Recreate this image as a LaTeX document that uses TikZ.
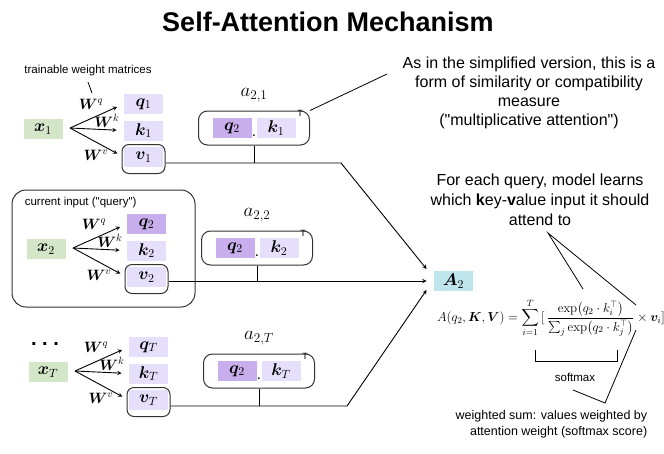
\documentclass[tikz,border=0pt]{standalone}
\usepackage{fix-cm}
\usepackage[no-math]{fontspec}
\setmainfont{Liberation Sans}
\usepackage{amsmath,bm}
\usetikzlibrary{positioning}

\definecolor{qdark}{HTML}{C8AEEC}
\definecolor{qlight}{HTML}{E5DFFB}
\definecolor{xgreen}{HTML}{D3E7C8}
\definecolor{acyan}{HTML}{BEE5EC}

\tikzset{
  vec/.style={minimum width=39pt, minimum height=20pt, inner sep=0pt, font=\fontsize{17}{17}\selectfont},
  rbox/.style={draw=black!80, rounded corners=7pt, line width=1pt},
  wlab/.style={font=\fontsize{15}{15}\selectfont, inner sep=0pt},
}

\begin{document}
\begin{tikzpicture}[x=1pt,y=-1pt,>=stealth,line width=0.9pt]
\useasboundingbox (0,0) rectangle (664,453);
\node[font=\fontsize{27}{27}\selectfont\bfseries] (title) at (328,22) {Self-Attention Mechanism};
\node[font=\fontsize{11.5}{13}\selectfont] (tw) at (88,71) {trainable weight matrices};
\coordinate (twend) at (92,93);
\draw[line width=0.8pt] ([yshift=-2pt]tw.south) -- (twend);
% current input
\node[rbox, rounded corners=14pt, minimum width=183pt, minimum height=117pt] (query) at (103.5,248.5) {};
\node[font=\fontsize{11.5}{13}\selectfont, anchor=west] (qlab) at (21,203) {current input (\textquotedbl query\textquotedbl)};
\node[font=\fontsize{20}{20}\selectfont\bfseries, anchor=base] (dots) at (45,345) {.~.~.};

\foreach \n/\ix/\y/\dx/\qc/\ly in {1/1/129/0/qlight/163, 2/2/249/3/qdark/281, 3/T/372/5/qlight/406}{
  \node[vec, fill=xgreen] (x\n) at (43+\dx,\y) {$\bm x_\ix$};
  \coordinate (o\n) at (70+\dx,\y-1);
  \node[vec, fill=\qc] (q\n) at (143.5+\dx,\y-25) {$\bm q_\ix$};
  \node[vec, fill=qlight] (k\n) at (143.5+\dx,\y+1.5) {$\bm k_\ix$};
  \node[rbox, minimum width=43pt, minimum height=29pt] (vf\n) at (143.5+\dx,\y+30) {};
  \node[vec, fill=qlight] (v\n) at (143.5+\dx,\y+28) {$\bm v_\ix$};
  \draw[->, shorten >=7pt] (o\n) -- (q\n.west);
  \draw[->, shorten >=7pt] (o\n) -- (k\n.west);
  \draw[->, shorten >=7pt] (o\n) -- (v\n.west);
  \node[wlab] (wq\n) at (91+\dx,\y-25) {$\bm W^{q}$};
  \node[wlab] (wk\n) at (107+\dx,\y-8) {$\bm W^{k}$};
  \node[wlab] (wv\n) at (96+\dx,\y+26) {$\bm W^{v}$};
  % dot product box
  \node[rbox, rounded corners=9pt, minimum width=111pt, minimum height=34pt] (a\n) at (254+\dx,\y-1) {};
  \node[vec, fill=qdark] (aq\n) at ([xshift=-22pt]a\n.center) {$\bm q_2$};
  \node[vec, fill=qlight] (ak\n) at ([xshift=22pt]a\n.center) {$\bm k_\ix$};
  \node[font=\fontsize{15}{15}\selectfont, anchor=base, inner sep=0pt] (d\n) at ([yshift=-8pt]a\n.center) {.};
  \node[font=\fontsize{9}{9}\selectfont, anchor=south west, inner sep=1pt] (t\n) at (ak\n.north east) {T};
  \node[font=\fontsize{19}{19}\selectfont] (al\n) at ([yshift=15pt]a\n.north) {$a_{2,\ix}$};
  \coordinate (j\n) at (a\n.south |- 0,\ly);
  \draw (a\n.south) -- (j\n);
}

\node[vec, fill=acyan] (A2) at (453.5,281) {$\bm A_2$};
\coordinate (b1) at (341,163);
\coordinate (b3) at (347,406);
\draw[->] (vf1.east |- j1) -- (b1) -- ([xshift=-7pt,yshift=12pt]A2.west);
\draw[->] (vf2.east |- j2) -- ([xshift=-7pt]A2.west);
\draw[->] (vf3.east |- j3) -- (b3) -- ([xshift=-7pt,yshift=-9pt]A2.west);

% formula
\node[font=\fontsize{13}{15}\selectfont, inner sep=0pt] (attn) at (551,318) {$\displaystyle A(q_2,\bm K,\bm V)=\sum_{i=1}^{T}\,[\,\frac{\exp\bigl(q_2\cdot k_i^{\top}\bigr)}{\sum_j \exp\bigl(q_2\cdot k_j^{\top}\bigr)}\times\bm v_i]$};
\draw[line width=0.8pt] (535,350) -- (535,361) -- (617,361) -- (617,350);
\node[font=\fontsize{11.5}{13}\selectfont] (sm) at (575,377) {softmax};

% callouts
\node[font=\fontsize{16}{19}\selectfont, align=center] (sim) at (529,93) {As in the simplified version, this is a\\form of similarity or compatibility\\measure\\(\textquotedbl multiplicative attention\textquotedbl)};
\coordinate (simend) at (387,74);
\draw[line width=0.8pt] (a1.north east) -- (simend);

\node[font=\fontsize{16}{20}\selectfont, align=center] (kv) at (540,200) {For each query, model learns\\which \textbf{k}ey-\textbf{v}alue input it should\\attend to};
\coordinate (kvtip) at (548,233);
\coordinate (num) at (583,289);
\coordinate (vi) at (636,305);
\draw[line width=0.8pt] (num) -- (kvtip) -- (vi);

\node[font=\fontsize{12.5}{16}\selectfont, align=right, anchor=east] (ws) at (651,424) {weighted sum: values weighted by\\attention weight (softmax score)};
\coordinate (wsa) at (573,390);
\coordinate (wsb) at (605,403);
\coordinate (wsc) at (636,330);
\draw[line width=0.8pt] (wsa) -- (wsb) -- (wsc);
\end{tikzpicture}
\end{document}
